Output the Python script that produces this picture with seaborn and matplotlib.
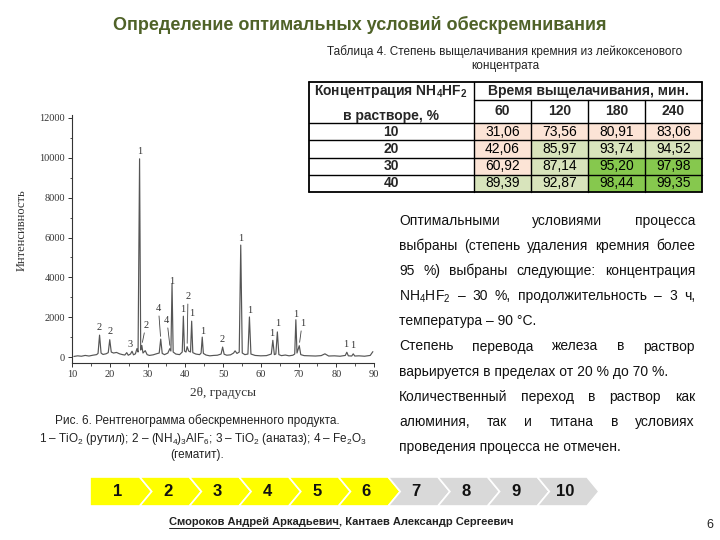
import matplotlib
matplotlib.use("Agg")
import matplotlib.pyplot as plt
import seaborn as sns
import pandas as pd
from matplotlib.colors import ListedColormap, BoundaryNorm
from matplotlib.patches import Polygon
from matplotlib.ticker import MultipleLocator

# ---------------- data ----------------
two_theta = [10.5, 11.5, 12.5, 13.5, 14.5, 15.5, 16.5, 16.9, 17.3, 17.7,
             18.2, 19.0, 19.6, 20.0, 20.4, 21.0, 21.8, 22.6, 23.4, 24.0,
             24.5, 24.9, 25.5, 25.9, 26.3, 26.8, 27.2, 27.5, 27.9, 28.2,
             28.5, 28.8, 29.4, 29.9, 30.5, 31.5, 32.5, 33.1, 33.5, 33.9,
             34.5, 35.4, 35.9, 36.2, 36.5, 36.8, 37.5, 38.5, 39.2, 39.5,
             39.8, 40.2, 40.5, 40.9, 41.4, 41.7, 42.0, 42.8, 43.8, 44.2,
             44.5, 44.8, 45.5, 46.5, 47.5, 48.5, 49.5, 49.9, 50.3, 51.0,
             52.0, 52.8, 53.2, 53.7, 54.3, 54.7, 55.1, 55.8, 56.6, 57.0,
             57.4, 58.5, 60.0, 61.5, 62.8, 63.2, 63.6, 64.0, 64.4, 64.8,
             65.5, 66.5, 67.5, 68.5, 69.0, 69.3, 69.6, 70.2, 70.6, 71.5,
             73.0, 74.5, 76.0, 77.0, 78.0, 79.5, 81.0, 82.4, 82.8, 83.2,
             84.1, 84.5, 84.9, 86.0, 87.5, 89.0, 89.7]
intensity = [30, 60, 40, 80, 50, 90, 120, 180, 1100, 200,
             130, 160, 220, 870, 250, 200, 230, 160, 120, 100,
             220, 90, 150, 290, 110, 160, 420, 250, 9950, 350,
             580, 200, 320, 120, 80, 110, 170, 200, 900, 180,
             120, 200, 420, 300, 3680, 250, 150, 120, 250, 2050,
             300, 250, 520, 300, 250, 1800, 220, 150, 120, 200,
             1000, 180, 100, 60, 80, 90, 150, 500, 140, 90,
             110, 200, 310, 180, 250, 5620, 200, 120, 150, 2010,
             150, 80, 60, 70, 150, 840, 120, 150, 1260, 120,
             70, 100, 60, 90, 150, 1870, 200, 570, 120, 70,
             60, 50, 70, 160, 50, 60, 40, 80, 240, 60,
             50, 160, 50, 60, 40, 80, 270]

peak_x = [17.3, 20.0, 25.5, 27.9, 29.6, 32.8, 35.1, 36.5, 39.3, 40.8, 41.8,
          44.5, 49.8, 54.7, 57.0, 62.9, 64.6, 69.3, 71.0, 82.6, 84.4]
peak_y = [1500, 1290, 620, 10330, 1570, 2440, 1820, 3770, 2380, 3050, 2160,
          1270, 900, 5930, 2330, 1200, 1670, 2130, 1700, 620, 570]
peak_lbl = ["2", "2", "3", "1", "2", "4", "4", "1", "1", "2", "1",
            "1", "2", "1", "1", "1", "1", "1", "1", "1", "1"]
lead_x0 = [29.3, 33.0, 35.3, 40.7, 70.8]
lead_y0 = [1350, 2200, 1600, 2800, 1450]
lead_x1 = [28.5, 33.5, 36.0, 40.5, 70.2]
lead_y1 = [600, 900, 450, 550, 600]

conc = ["10", "20", "30", "40"]
times = ["60", "120", "180", "240"]
leach = [[31.06, 73.56, 80.91, 83.06],
         [42.06, 85.97, 93.74, 94.52],
         [60.92, 87.14, 95.20, 97.98],
         [89.39, 92.87, 98.44, 99.35]]

steps = ["1", "2", "3", "4", "5", "6", "7", "8", "9", "10"]
done_steps = 6

para_lines = [
    ("Оптимальными условиями процесса", True),
    ("выбраны (степень удаления кремния более", True),
    ("95 %) выбраны следующие: концентрация", True),
    ("NH$_4$HF$_2$ – 30 %, продолжительность – 3 ч,", True),
    ("температура – 90 °С.", False),
    ("Степень перевода железа в раствор", True),
    ("варьируется в пределах от 20 % до 70 %.", False),
    ("Количественный переход в раствор как", True),
    ("алюминия, так и титана в условиях", True),
    ("проведения процесса не отмечен.", False),
]

# ---------------- style ----------------
sns.set_theme(style="ticks")
plt.rcParams['font.family'] = ['Liberation Sans', 'DejaVu Sans']
plt.rcParams['mathtext.fontset'] = 'custom'
plt.rcParams['mathtext.rm'] = 'Liberation Sans'
plt.rcParams['mathtext.it'] = 'Liberation Sans:italic'
plt.rcParams['mathtext.bf'] = 'Liberation Sans:bold'

SERIF = ['Liberation Serif', 'DejaVu Serif']
W, H = 720, 540
fig = plt.figure(figsize=(7.2, 5.4), dpi=100)
fig.patch.set_facecolor('white')


def fbox(l, t, r, b):
    return [l / W, 1 - b / H, (r - l) / W, (b - t) / H]


# ---------------- XRD pattern ----------------
ax = fig.add_axes(fbox(72, 115, 374, 363))
sns.lineplot(x=two_theta, y=intensity, ax=ax, color="#555555", lw=0.85,
             sort=False, estimator=None)
ax.set_xlim(10, 90)
ax.set_ylim(-300, 12150)
ax.set_xticks(range(10, 91, 10))
ax.set_yticks(range(0, 12001, 2000))
ax.xaxis.set_minor_locator(MultipleLocator(5))
ax.yaxis.set_minor_locator(MultipleLocator(1000))
sns.despine(ax=ax)
for s in ("left", "bottom"):
    ax.spines[s].set_linewidth(0.8)
    ax.spines[s].set_color("#333333")
ax.tick_params(which='major', direction='out', length=3, width=0.7,
               colors='#333333', labelsize=7.5, pad=2)
ax.tick_params(which='minor', direction='out', length=1.8, width=0.6,
               colors='#333333')
for lab in ax.get_xticklabels() + ax.get_yticklabels():
    lab.set_family(SERIF)
ax.set_ylabel("Интенсивность", family=SERIF, fontsize=9, color="#333333")
ax.yaxis.set_label_coords(-0.146, 0.535)
ax.set_xlabel("2θ, градусы", family=SERIF, fontsize=9.5, color="#333333")
ax.xaxis.set_label_coords(0.5, -0.097)
for x, y, t in zip(peak_x, peak_y, peak_lbl):
    ax.text(x, y, t, ha='center', va='center', family=SERIF, fontsize=7.5,
            color="#333333")
for x0, y0, x1, y1 in zip(lead_x0, lead_y0, lead_x1, lead_y1):
    ax.annotate("", xy=(x1, y1), xytext=(x0, y0),
                arrowprops=dict(arrowstyle='-', color="#444444", lw=0.6))

# ---------------- table body (heatmap) ----------------
axh = fig.add_axes(fbox(474, 123, 702, 192))
df = pd.DataFrame(leach, index=conc, columns=times)
annot = [[f"{v:.2f}".replace(".", ",") for v in row] for row in leach]
cmap = ListedColormap(['#fce4d6', '#d8e4bc', '#86c84e'])
norm = BoundaryNorm([0, 85, 95, 100.5], 3)
sns.heatmap(df, ax=axh, cmap=cmap, norm=norm, annot=annot, fmt="",
            cbar=False, linewidths=0, xticklabels=False, yticklabels=False,
            annot_kws={'fontsize': 10, 'color': 'black'})
axh.set_xlabel("")
axh.set_ylabel("")

# ---------------- overlay ----------------
ov = fig.add_axes([0, 0, 1, 1])
ov.set_xlim(0, W)
ov.set_ylim(H, 0)
ov.axis('off')
ov.set_zorder(10)
ov.patch.set_alpha(0)
R = fig.canvas.get_renderer()

# title
ov.text(360, 25, "Определение оптимальных условий обескремнивания",
        ha='center', va='center', fontsize=13, weight='bold', color='#4f6228')

# table caption
ov.text(505, 51.5, "Таблица 4. Степень выщелачивания кремния из лейкоксенового",
        ha='center', va='center', fontsize=8.5, color='#222222')
ov.text(505, 66, "концентрата", ha='center', va='center', fontsize=8.5,
        color='#222222')

# table grid
tl, tr, tt, tb = 309, 702, 82, 192
c1 = 474
colw = (tr - c1) / len(times)
rows_y = [123 + i * (tb - 123) / len(conc) for i in range(len(conc) + 1)]
lw = 1.0
ov.plot([tl, tr], [tt, tt], color='black', lw=1.3)
ov.plot([tl, tr], [tb, tb], color='black', lw=1.3)
ov.plot([tl, tl], [tt, tb], color='black', lw=1.3)
ov.plot([tr, tr], [tt, tb], color='black', lw=1.3)
ov.plot([c1, tr], [100, 100], color='black', lw=lw)
for yy in rows_y[:-1]:
    ov.plot([tl, tr], [yy, yy], color='black', lw=lw)
ov.plot([c1, c1], [tt, tb], color='black', lw=lw)
for k in range(1, len(times)):
    xx = c1 + k * colw
    ov.plot([xx, xx], [100, tb], color='black', lw=lw)

ov.text(391, 91, r"Концентрация NH$_\mathbf{4}$HF$_\mathbf{2}$", ha='center',
        va='center', fontsize=10, weight='bold')
ov.text(391, 116, "в растворе, %", ha='center', va='center', fontsize=10,
        weight='bold')
ov.text((c1 + tr) / 2, 91, "Время выщелачивания, мин.", ha='center',
        va='center', fontsize=10, weight='bold')
for k, t in enumerate(times):
    ov.text(c1 + (k + 0.5) * colw, 111, t, ha='center', va='center',
            fontsize=10, weight='bold')
for i, c in enumerate(conc):
    ov.text(391, (rows_y[i] + rows_y[i + 1]) / 2, c, ha='center',
            va='center', fontsize=10, weight='bold')

# paragraph (justified)
px0, px1 = 399, 695
for i, (line, just) in enumerate(para_lines):
    yb = 225 + i * 25.1
    if not just:
        ov.text(px0, yb, line, ha='left', va='baseline', fontsize=10,
                color='#111111')
        continue
    words = line.split(' ')
    arts = [ov.text(0, yb, w, ha='left', va='baseline', fontsize=10,
                    color='#111111') for w in words]
    widths = [a.get_window_extent(renderer=R).width for a in arts]
    gap = (px1 - px0 - sum(widths)) / (len(words) - 1)
    x = px0
    for a, wd in zip(arts, widths):
        a.set_x(x)
        x += wd + gap

# figure caption
ov.text(197, 421, "Рис. 6. Рентгенограмма обескремненного продукта.",
        ha='center', va='center', fontsize=8.5, color='#222222')
ov.text(203, 439,
        "1 – TiO$_2$ (рутил); 2 – (NH$_4$)$_3$AlF$_6$; 3 – TiO$_2$ (анатаз); 4 – Fe$_2$O$_3$",
        ha='center', va='center', fontsize=8.5, color='#222222')
ov.text(197, 455, "(гематит).", ha='center', va='center', fontsize=8.5,
        color='#222222')

# chevrons
cx0, cw, cd, ct, cb = 90, 49.7, 12, 477, 506
cm = (ct + cb) / 2
for i, s in enumerate(steps):
    x0 = cx0 + i * cw
    pts = [(x0, ct), (x0 + cw, ct), (x0 + cw + cd, cm), (x0 + cw, cb), (x0, cb)]
    if i > 0:
        pts.append((x0 + cd, cm))
    col = '#ffff00' if i < done_steps else '#d9d9d9'
    ov.add_patch(Polygon(pts, closed=True, facecolor=col, edgecolor='white',
                         lw=1.2))
    ov.text(x0 + 28, cm, s, ha='center', va='center', fontsize=12,
            weight='bold', color='#111111')

# authors
a1 = ov.text(169, 522, "Смороков Андрей Аркадьевич", ha='left', va='center',
             fontsize=8, weight='bold', color='#222222')
w1 = a1.get_window_extent(renderer=R).width
ov.plot([169, 169 + w1], [527.5, 527.5], color='#222222', lw=0.7)
ov.text(169 + w1, 522, ", Кантаев Александр Сергеевич", ha='left',
        va='center', fontsize=8, weight='bold', color='#222222')

# page number
ov.text(710, 525, "6", ha='center', va='center', fontsize=9, color='#222222')

fig.savefig("out.png", dpi=100, facecolor='white')
